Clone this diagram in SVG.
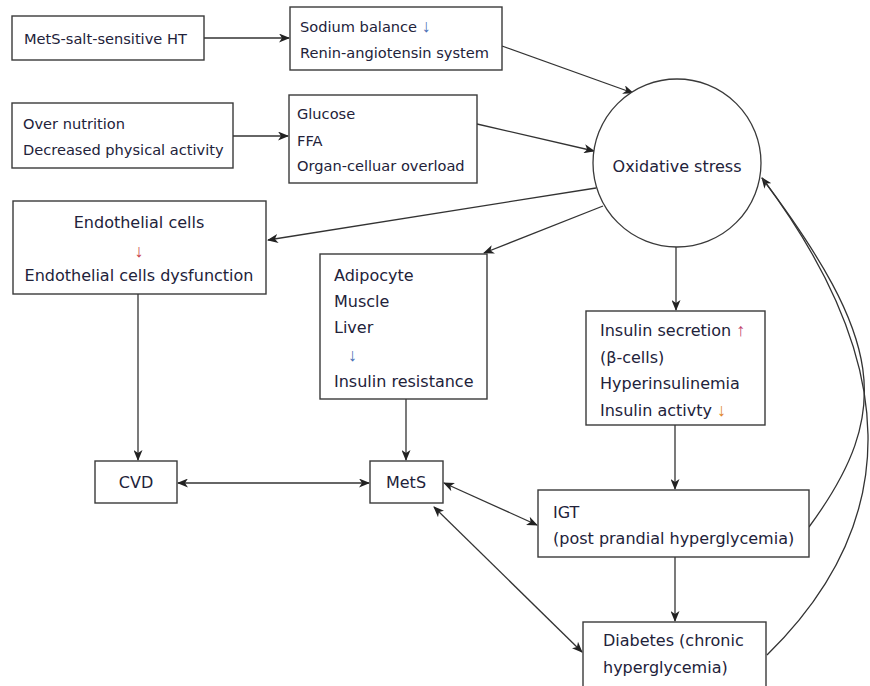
<svg xmlns="http://www.w3.org/2000/svg" width="870" height="686" viewBox="0 0 870 686">
<defs>
<style>
.box{fill:#fff;stroke:#3a3a3a;stroke-width:1.4}
.t{font-family:"DejaVu Sans",Verdana,sans-serif;font-size:16px;fill:#22223a}
.s{font-size:14.6px}
.c{text-anchor:middle}
.ar{font-family:"Liberation Sans",Arial,sans-serif;font-size:18px}
.ln{fill:none;stroke:#333;stroke-width:1.3}
.blue{fill:#4a6fb5}
.red{fill:#c8404a}
.pink{fill:#c0406a}
.orange{fill:#e0852a}
</style>
<marker id="ah" markerWidth="11" markerHeight="9" refX="10" refY="4.5" orient="auto-start-reverse" markerUnits="userSpaceOnUse">
<path d="M0,0 L11,4.5 L0,9 L3,4.5 Z" fill="#222"/>
</marker>
</defs>
<rect width="870" height="686" fill="#fff"/>

<g id="connectors">
<line class="ln" x1="204" y1="38" x2="289" y2="38" marker-end="url(#ah)"/>
<line class="ln" x1="233" y1="136" x2="288" y2="136" marker-end="url(#ah)"/>
<line class="ln" x1="502" y1="46" x2="633" y2="93" marker-end="url(#ah)"/>
<line class="ln" x1="477" y1="124" x2="594" y2="151" marker-end="url(#ah)"/>
<line class="ln" x1="596" y1="188" x2="268" y2="240" marker-end="url(#ah)"/>
<line class="ln" x1="603" y1="206" x2="484" y2="253" marker-end="url(#ah)"/>
<line class="ln" x1="676" y1="247" x2="676" y2="310" marker-end="url(#ah)"/>
<line class="ln" x1="138" y1="294" x2="138" y2="460" marker-end="url(#ah)"/>
<line class="ln" x1="406" y1="399" x2="406" y2="460" marker-end="url(#ah)"/>
<line class="ln" x1="675" y1="425" x2="675" y2="489" marker-end="url(#ah)"/>
<line class="ln" x1="675" y1="557" x2="675" y2="621" marker-end="url(#ah)"/>
<line class="ln" x1="178" y1="483" x2="369" y2="483" marker-start="url(#ah)" marker-end="url(#ah)"/>
<line class="ln" x1="444" y1="483" x2="537" y2="525" marker-start="url(#ah)" marker-end="url(#ah)"/>
<line class="ln" x1="434" y1="507" x2="582" y2="652" marker-start="url(#ah)" marker-end="url(#ah)"/>
<path class="ln" d="M809,527 C895,410 882,338 762,178" marker-end="url(#ah)"/>
<path class="ln" d="M767,655 C905,520 900,362 762,178"/>
</g>

<g id="n-salt">
<rect class="box" x="12" y="16" width="192" height="44"/>
<text class="t s" x="24" y="43.5">MetS-salt-sensitive HT</text>
</g>

<g id="n-sodium">
<rect class="box" x="290" y="7" width="212" height="63"/>
<text class="t s" x="300" y="31.5">Sodium balance <tspan class="ar blue">↓</tspan></text>
<text class="t s" x="300" y="57.5">Renin-angiotensin system</text>
</g>

<g id="n-nutrition">
<rect class="box" x="12" y="103" width="221" height="65"/>
<text class="t s" x="23" y="128.5">Over nutrition</text>
<text class="t s" x="23" y="154.5">Decreased physical activity</text>
</g>

<g id="n-glucose">
<rect class="box" x="289" y="95" width="188" height="88"/>
<text class="t s" x="297" y="118.5">Glucose</text>
<text class="t s" x="297" y="145.5">FFA</text>
<text class="t s" x="297" y="170.5">Organ-celluar overload</text>
</g>

<g id="n-oxidative">
<circle cx="677" cy="163" r="84" fill="#fff" stroke="#3a3a3a" stroke-width="1.3"/>
<text class="t c" x="677" y="172">Oxidative stress</text>
</g>

<g id="n-endothelial">
<rect class="box" x="13" y="201" width="253" height="93"/>
<text class="t c" x="139" y="228">Endothelial cells</text>
<text class="t c ar red" x="139" y="257">↓</text>
<text class="t c" x="139" y="281">Endothelial cells dysfunction</text>
</g>

<g id="n-adipocyte">
<rect class="box" x="320" y="254" width="167" height="145"/>
<text class="t" x="334" y="281">Adipocyte</text>
<text class="t" x="334" y="307">Muscle</text>
<text class="t" x="334" y="333">Liver</text>
<text class="t ar blue" x="348" y="361">↓</text>
<text class="t" x="334" y="387">Insulin resistance</text>
</g>

<g id="n-insulin">
<rect class="box" x="586" y="311" width="179" height="114"/>
<text class="t" x="600" y="336">Insulin secretion <tspan class="ar pink">↑</tspan></text>
<text class="t" x="600" y="363">(β-cells)</text>
<text class="t" x="600" y="389">Hyperinsulinemia</text>
<text class="t" x="600" y="416">Insulin activty <tspan class="ar orange">↓</tspan></text>
</g>

<g id="n-cvd">
<rect class="box" x="95" y="461" width="82" height="42"/>
<text class="t c" x="136" y="488">CVD</text>
</g>

<g id="n-mets">
<rect class="box" x="370" y="461" width="73" height="42"/>
<text class="t c" x="406" y="488">MetS</text>
</g>

<g id="n-igt">
<rect class="box" x="538" y="490" width="271" height="67"/>
<text class="t" x="553" y="518">IGT</text>
<text class="t" x="553" y="544">(post prandial hyperglycemia)</text>
</g>

<g id="n-diabetes">
<rect class="box" x="583" y="622" width="183" height="80"/>
<text class="t" x="603" y="646">Diabetes (chronic</text>
<text class="t" x="603" y="673">hyperglycemia)</text>
</g>
</svg>
